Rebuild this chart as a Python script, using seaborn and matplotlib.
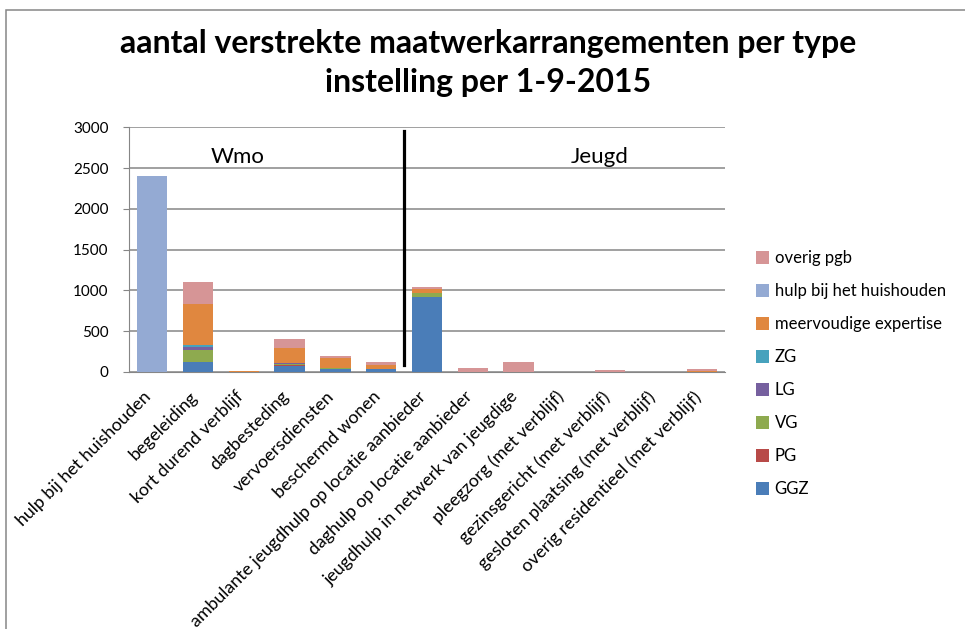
import numpy as np
import pandas as pd
import matplotlib
matplotlib.use('Agg')
import matplotlib.pyplot as plt
import matplotlib.transforms as mtransforms
from matplotlib.patches import Patch, Rectangle
import seaborn as sns

# --- Data ---
categories = [
    'hulp bij het huishouden', 'begeleiding', 'kort durend verblijf',
    'dagbesteding', 'vervoersdiensten', 'beschermd wonen',
    'ambulante jeugdhulp op locatie aanbieder', 'daghulp op locatie aanbieder',
    'jeugdhulp in netwerk van jeugdige', 'pleegzorg (met verblijf)',
    'gezinsgericht (met verblijf)', 'gesloten plaatsing (met verblijf)',
    'overig residentieel (met verblijf)',
]
ggz = [0, 120, 0, 70, 40, 40, 915, 0, 0, 0, 0, 0, 0]
pg = [0, 5, 0, 20, 0, 0, 0, 0, 0, 0, 0, 0, 0]
vg = [0, 150, 0, 10, 15, 0, 50, 0, 0, 0, 0, 0, 0]
lg = [0, 35, 0, 15, 0, 0, 0, 0, 0, 0, 0, 0, 0]
zg = [0, 25, 0, 0, 0, 0, 0, 0, 0, 0, 0, 0, 0]
meervoudig = [0, 500, 8, 185, 115, 50, 55, 0, 0, 0, 0, 0, 10]
hulp_hh = [2400, 0, 0, 0, 0, 0, 0, 0, 0, 0, 0, 0, 0]
overig_pgb = [0, 270, 10, 100, 20, 35, 20, 55, 120, 0, 25, 0, 30]

series_names = ['GGZ', 'PG', 'VG', 'LG', 'ZG', 'meervoudige expertise',
                'hulp bij het huishouden', 'overig pgb']
series_values = [ggz, pg, vg, lg, zg, meervoudig, hulp_hh, overig_pgb]
colors = ['#4A7DB8', '#B84A48', '#8EAA4F', '#76609F', '#47A2BD',
          '#E0873F', '#94AAD3', '#D69596']

GRID = '#868686'

df = pd.DataFrame(dict(zip(series_names, series_values)), index=categories)
cum = df.cumsum(axis=1)

plt.rcParams['font.family'] = ['Lato', 'DejaVu Sans']
fig = plt.figure(figsize=(9.65, 6.29), dpi=100)
ax = fig.add_axes([0.134, 0.4086, 0.617, 0.389])

# stacked bars: draw cumulative totals from the top series down
for name, col in reversed(list(zip(series_names, colors))):
    sns.barplot(x=categories, y=cum[name].values, color=col, saturation=1,
                width=0.66, ax=ax, zorder=3, linewidth=0)

ax.set_ylim(0, 3000)
ax.set_xlim(-0.5, len(categories) - 0.5)
ax.set_yticks(range(0, 3001, 500))
ax.yaxis.grid(True, color=GRID, linewidth=1.1, zorder=0)
ax.set_axisbelow(True)
for side in ['top', 'right']:
    ax.spines[side].set_visible(False)
for side in ['left', 'bottom']:
    ax.spines[side].set_color(GRID)
ax.tick_params(axis='y', colors=GRID, labelcolor='black', labelsize=11, length=4, pad=11)
ax.tick_params(axis='x', length=0, labelsize=12.8, pad=4)
ax.set_xticks(range(len(categories)))
ax.set_xticklabels(categories, rotation=45, ha='right', rotation_mode='anchor')
shift = mtransforms.ScaledTranslation(-9 / 100, -11 / 100, fig.dpi_scale_trans)
for lbl in ax.get_xticklabels():
    lbl.set_transform(lbl.get_transform() + shift)
ax.set_xlabel('')
ax.set_ylabel('')

# divider between Wmo and Jeugd
ax.plot([5.5, 5.5], [90, 2960], color='black', linewidth=2.3, zorder=5, clip_on=False)
ax.text(1.87, 2630, 'Wmo', fontsize=16, ha='center', va='center')
ax.text(9.78, 2630, 'Jeugd', fontsize=16, ha='center', va='center')

fig.text(0.506, 0.9, 'aantal verstrekte maatwerkarrangementen per type\ninstelling per 1-9-2015',
         ha='center', va='center', fontsize=23, fontweight='bold', linespacing=1.45)

handles = [Patch(facecolor=c, edgecolor='none', label=n)
           for n, c in zip(series_names, colors)][::-1]
fig.legend(handles=handles, loc='upper left', bbox_to_anchor=(0.776, 0.613),
           frameon=False, fontsize=12, labelspacing=1.02, handlelength=0.8,
           handleheight=0.8, handletextpad=0.35, borderaxespad=0)

fig.patches.append(Rectangle((0.0062, -0.05), 1.2, 0.984 + 0.05, transform=fig.transFigure,
                             fill=False, edgecolor=GRID, linewidth=1.1))

fig.savefig('out.png', dpi=100)
